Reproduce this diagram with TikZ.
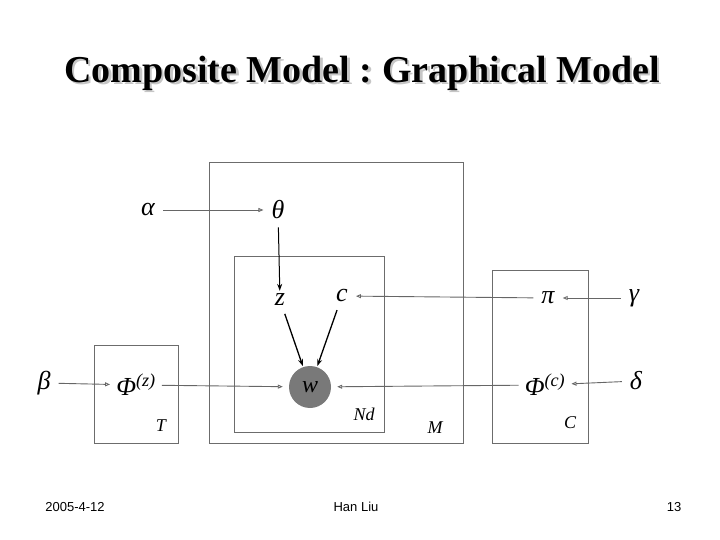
\documentclass[tikz,border=0pt]{standalone}
\usepackage{fontspec}
\setmainfont{Liberation Serif}
\newfontfamily\footfont{Liberation Sans}
\usetikzlibrary{arrows.meta,positioning}
\frenchspacing

\begin{document}
\begin{tikzpicture}[x=1pt, y=-1pt,
    var/.style={inner sep=2pt, font=\fontsize{26}{28}\selectfont\itshape},
    platelabel/.style={inner sep=0pt, font=\fontsize{18}{20}\selectfont\itshape},
    plate/.style={draw=gray!85!black, line width=0.8pt},
    arrow/.style={-{Triangle[open, length=5pt, width=4pt]}, gray!80!black, line width=0.9pt, shorten >=6pt, shorten <=6pt},
    darrow/.style={-{Stealth[length=7pt, width=5pt]}, black, line width=1.3pt, shorten >=1pt, shorten <=6pt},
    foot/.style={font=\footfont\fontsize{13}{15}\selectfont}]

    \useasboundingbox (0,0) rectangle (720,540);

    % title with its shadow
    \node (shadow) [gray!45] at (364.5,75.5) {\fontsize{38}{40}\selectfont\bfseries Composite Model : Graphical Model};
    \node (title) at (362,73) {\fontsize{38}{40}\selectfont\bfseries Composite Model : Graphical Model};

    % plates
    \draw [plate] (209,162) rectangle (463,443);
    \draw [plate] (234,256) rectangle (384,432);
    \draw [plate] (94,345) rectangle (178,443);
    \draw [plate] (492,270) rectangle (588,443);

    \node (T) [platelabel] at (161,426) {T};
    \node (Nd) [platelabel] at (364,414) {Nd};
    \node (M) [platelabel] at (435,428) {M};
    \node (C) [platelabel] at (570,423) {C};

    % variables
    \node (alpha) [var] at (148,210) {α};
    \node (theta) [var] at (278,210) {θ};
    \node (z) [var] at (280,300) {z};
    \node (c) [var] at (342,296) {c};
    \node (w) [circle, fill=gray!95!black, minimum size=42pt, inner sep=0pt, font=\fontsize{24}{26}\selectfont\itshape] at (310,387) {w};
    \node (beta) [var] at (44,383) {β};
    \node (phiz) [var, inner sep=0pt] at (136,385) {Φ\textsuperscript{(z)}};
    \node (pi) [var] at (548,298) {π};
    \node (gamma) [var] at (634,298) {γ};
    \node (phic) [var, inner sep=0pt] at (545,385) {Φ\textsuperscript{(c)}};
    \node (delta) [var] at (636,381) {δ};

    % edges
    \draw [arrow] (alpha) -- (theta);
    \draw [darrow, line width=1pt] (theta) -- (z);
    \draw [darrow] (z) -- (w);
    \draw [darrow] (c) -- (w);
    \draw [arrow] (beta) -- (phiz);
    \draw [arrow] (phiz) -- (w);
    \draw [arrow] (pi) -- (c);
    \draw [arrow] (gamma) -- (pi);
    \draw [arrow] (phic) -- (w);
    \draw [arrow] (delta) -- (phic);

    % footer
    \node (date) [foot] at (75,507) {2005-4-12};
    \node (author) [foot] at (356,507) {Han Liu};
    \node (page) [foot] at (674,507) {13};
\end{tikzpicture}
\end{document}
